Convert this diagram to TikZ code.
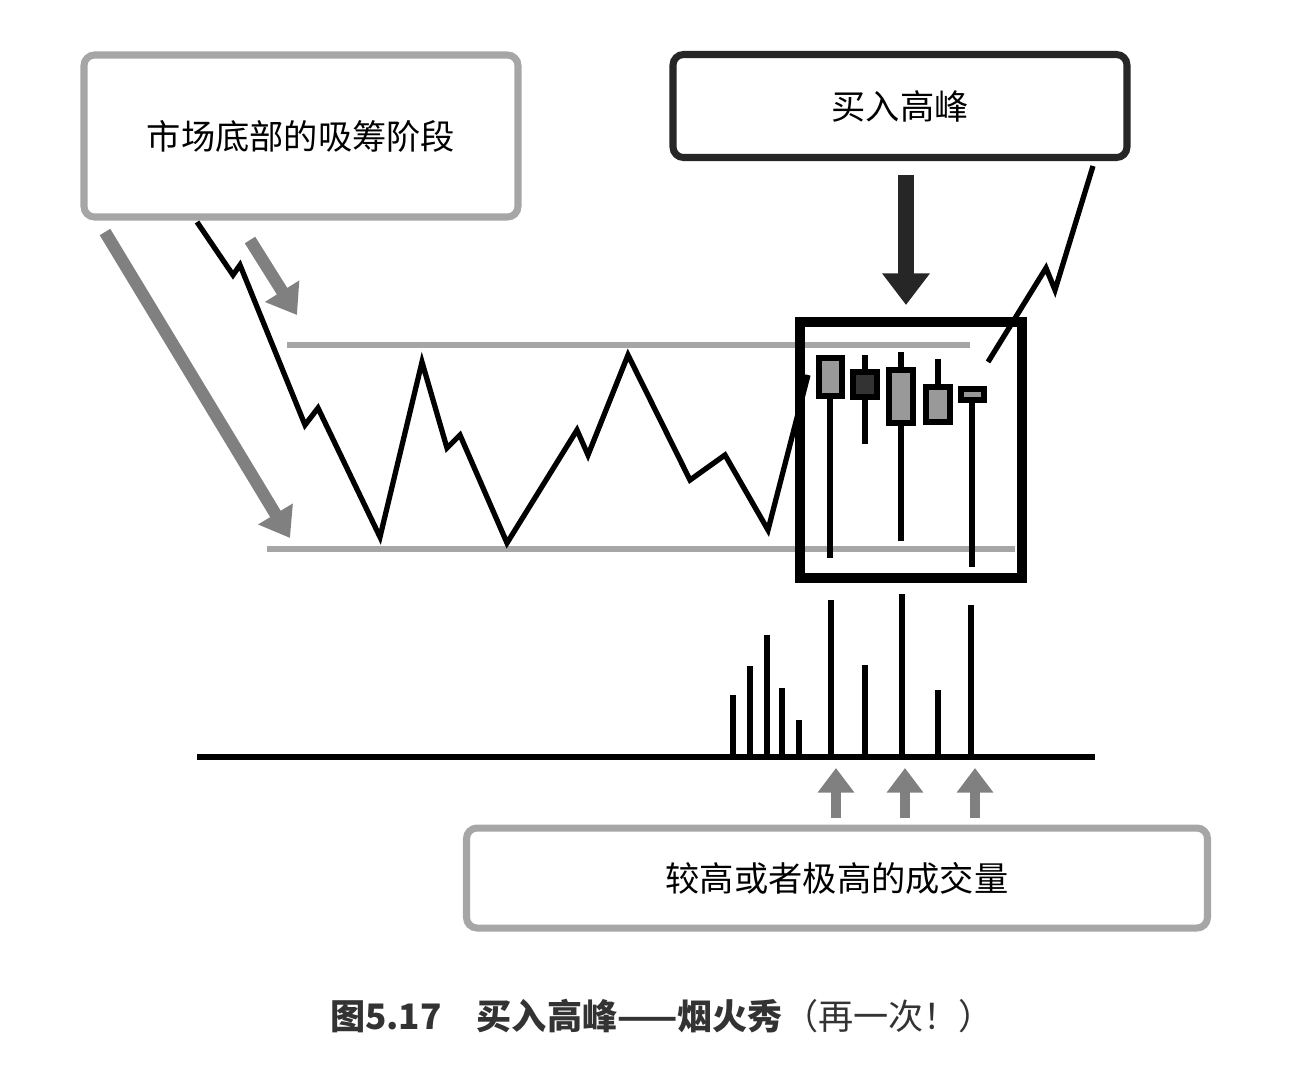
\documentclass[tikz,border=0pt]{standalone}
\usepackage{fontspec}
\setmainfont{Noto Sans CJK SC}
\usetikzlibrary{arrows.meta}
\tikzset{
  box/.style={draw=gray!70, line width=4pt, rounded corners=6pt, fill=white},
  candle/.style={draw=black, line width=3pt},
  wick/.style={black, line width=3pt},
  grayarrow/.style={black!50, line width=7pt, -{Triangle[length=16pt,width=22pt]}},
}
\begin{document}
\begin{tikzpicture}[x=0.02cm,y=-0.02cm]
  \useasboundingbox (0,0) rectangle (1312,1080);
  % label boxes
  \node[box, minimum width=434*0.02cm, minimum height=162*0.02cm, font=\fontsize{19.5}{22}\selectfont] (accum) at (301,136) {市场底部的吸筹阶段};
  \node[box, draw=black!85, minimum width=454*0.02cm, minimum height=103*0.02cm, font=\fontsize{19.5}{22}\selectfont] (peak) at (900,106) {买入高峰};
  \node[box, minimum width=741*0.02cm, minimum height=100*0.02cm, font=\fontsize{19.5}{22}\selectfont] (volume) at (837,878) {较高或者极高的成交量};
  % range lines
  \draw[gray!70, line width=3pt] (287,345) -- (970,345);
  \draw[gray!70, line width=3pt] (267,549) -- (1015,549);
  % price path
  \draw[black, line width=3pt, line join=miter] (197,222) -- (233,275) -- (240,265) -- (305,425) -- (318,408)
    -- (380,537) -- (422,362) -- (447,448) -- (460,435) -- (507,543) -- (577,430) -- (588,455)
    -- (628,355) -- (690,480) -- (725,455) -- (768,530) -- (808,375);
  \draw[black, line width=3pt] (988,362) -- (1046,268) -- (1055,290) -- (1093,166);
  % candles
  \draw[black, line width=6pt] (800,322) rectangle (1022,578);
  \draw[wick] (830,396) -- (830,558);
  \draw[candle, fill=gray!80] (819,358) rectangle (842,396);
  \draw[wick] (865,355) -- (865,444);
  \draw[candle, fill=black!80] (853,372) rectangle (877,397);
  \draw[wick] (901,352) -- (901,541);
  \draw[candle, fill=gray!80] (889,370) rectangle (913,423);
  \draw[wick] (938,359) -- (938,387);
  \draw[candle, fill=gray!80] (926,387) rectangle (950,422);
  \draw[wick] (972,400) -- (972,567);
  \draw[candle, fill=gray!80] (961,389) rectangle (984,400);
  % volume
  \draw[black, line width=3pt] (197,757) -- (1095,757);
  \foreach \x/\t in {733/695, 750/666, 767/635, 782/688, 799/720, 831/600, 865/665, 902/594, 938/690, 971/605}
    \draw[black, line width=3pt] (\x,757) -- (\x,\t);
  % arrows
  \draw[grayarrow] (105,232) -- (290,538);
  \draw[grayarrow] (250,240) -- (297,315);
  \draw[black!85, line width=9pt, -{Triangle[length=18pt,width=26pt]}] (906,175) -- (906,305);
  \foreach \x in {836,905,975}
    \draw[grayarrow, line width=6pt, -{Triangle[length=14pt,width=20pt]}] (\x,818) -- (\x,768);
  % caption
  \node[font=\fontsize{20}{24}\selectfont, text=black!80] (caption) at (662,1016)
    {\textbf{图5.17\quad 买入高峰——烟火秀}（再一次！）};
\end{tikzpicture}
\end{document}
